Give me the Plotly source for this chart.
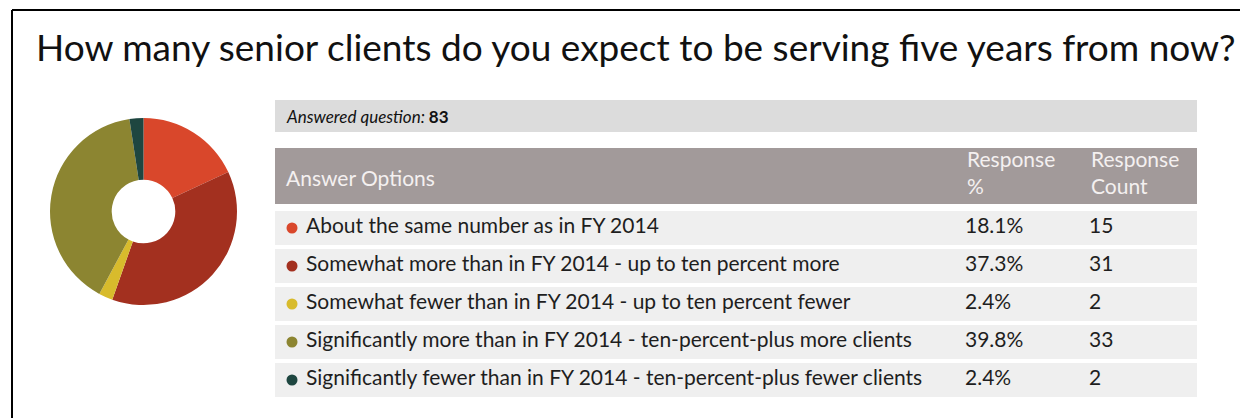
import plotly.graph_objects as go

# survey data
options = [
    "About the same number as in FY 2014",
    "Somewhat more than in FY 2014 - up to ten percent more",
    "Somewhat fewer than in FY 2014 - up to ten percent fewer",
    "Significantly more than in FY 2014 - ten-percent-plus more clients",
    "Significantly fewer than in FY 2014 - ten-percent-plus fewer clients",
]
percents = [18.1, 37.3, 2.4, 39.8, 2.4]
counts = [15, 31, 2, 33, 2]
colors = ["#d9472b", "#a3301f", "#d8bb2c", "#8c8531", "#1e4640"]
answered = 83

W, H = 1248, 418
OFF = 8  # page body margin
FONT = "Lato"


def dom(a, b, size):
    return [(a - OFF) / size, (b - OFF) / size]


fig = go.Figure()

# donut
fig.add_trace(go.Pie(
    values=counts,
    labels=options,
    marker=dict(colors=colors, line=dict(width=0)),
    hole=0.34,
    sort=False,
    direction="clockwise",
    rotation=0,
    textinfo="none",
    hoverinfo="label+percent",
    domain=dict(x=dom(50, 237, W), y=[1 - (305 - OFF) / H, 1 - (118 - OFF) / H]),
    showlegend=False,
))

# table rows (page pixel coords)
row_y = [228 + 38 * i for i in range(len(options))]
tbl_l, tbl_r = 275, 1197
shapes = []
shapes.append(dict(type="rect", xref="x", yref="y", x0=tbl_l, x1=tbl_r, y0=100, y1=132,
                   fillcolor="#dcdcdc", line=dict(width=0), layer="below"))
shapes.append(dict(type="rect", xref="x", yref="y", x0=tbl_l, x1=tbl_r, y0=148, y1=204,
                   fillcolor="#a29a9a", line=dict(width=0), layer="below"))
for y in row_y:
    shapes.append(dict(type="rect", xref="x", yref="y", x0=tbl_l, x1=tbl_r, y0=y - 17, y1=y + 17,
                       fillcolor="#efefef", line=dict(width=0), layer="below"))
# frame lines
shapes.append(dict(type="line", xref="x", yref="y", x0=12, x1=W + OFF, y0=10, y1=10,
                   line=dict(color="#000", width=2)))
shapes.append(dict(type="line", xref="x", yref="y", x0=12, x1=12, y0=10, y1=H + OFF,
                   line=dict(color="#000", width=2)))

txt = dict(family=FONT, size=21, color="#1e1e1e")
fig.add_trace(go.Scatter(
    x=[292] * len(options), y=row_y, mode="markers",
    marker=dict(size=11, color=colors), showlegend=False, hoverinfo="skip",
))
fig.add_trace(go.Scatter(
    x=[306] * len(options), y=row_y, mode="text", text=options,
    textposition="middle right", textfont=txt, showlegend=False, hoverinfo="skip",
))
fig.add_trace(go.Scatter(
    x=[965] * len(options), y=row_y, mode="text", text=[f"{p}%" for p in percents],
    textposition="middle right", textfont=txt, showlegend=False, hoverinfo="skip",
))
fig.add_trace(go.Scatter(
    x=[1089] * len(options), y=row_y, mode="text", text=[str(c) for c in counts],
    textposition="middle right", textfont=txt, showlegend=False, hoverinfo="skip",
))

hdr = dict(family=FONT, size=21, color="#f4f0f0")
annotations = [
    dict(text="How many senior clients do you expect to be serving five years from now?",
         x=34, y=46, xref="x", yref="y", xanchor="left", yanchor="middle", showarrow=False,
         font=dict(family=FONT, size=37, color="#111")),
    dict(text=f"<i>Answered question: </i><b>{answered}</b>",
         x=284, y=116, xref="x", yref="y", xanchor="left", yanchor="middle", showarrow=False,
         font=dict(family=FONT, size=17, color="#111")),
    dict(text="Answer Options", x=284, y=177, xref="x", yref="y", xanchor="left", yanchor="middle",
         showarrow=False, font=hdr),
    dict(text="Response<br>%", x=965, y=172, xref="x", yref="y", xanchor="left", yanchor="middle",
         align="left", showarrow=False, font=hdr),
    dict(text="Response<br>Count", x=1089, y=172, xref="x", yref="y", xanchor="left", yanchor="middle",
         align="left", showarrow=False, font=hdr),
]

fig.update_layout(
    width=W, height=H,
    margin=dict(l=0, r=0, t=0, b=0),
    paper_bgcolor="white", plot_bgcolor="white",
    xaxis=dict(range=[OFF, W + OFF], visible=False, fixedrange=True),
    yaxis=dict(range=[H + OFF, OFF], visible=False, fixedrange=True),
    shapes=shapes, annotations=annotations,
)

fig.write_html("out.html")
